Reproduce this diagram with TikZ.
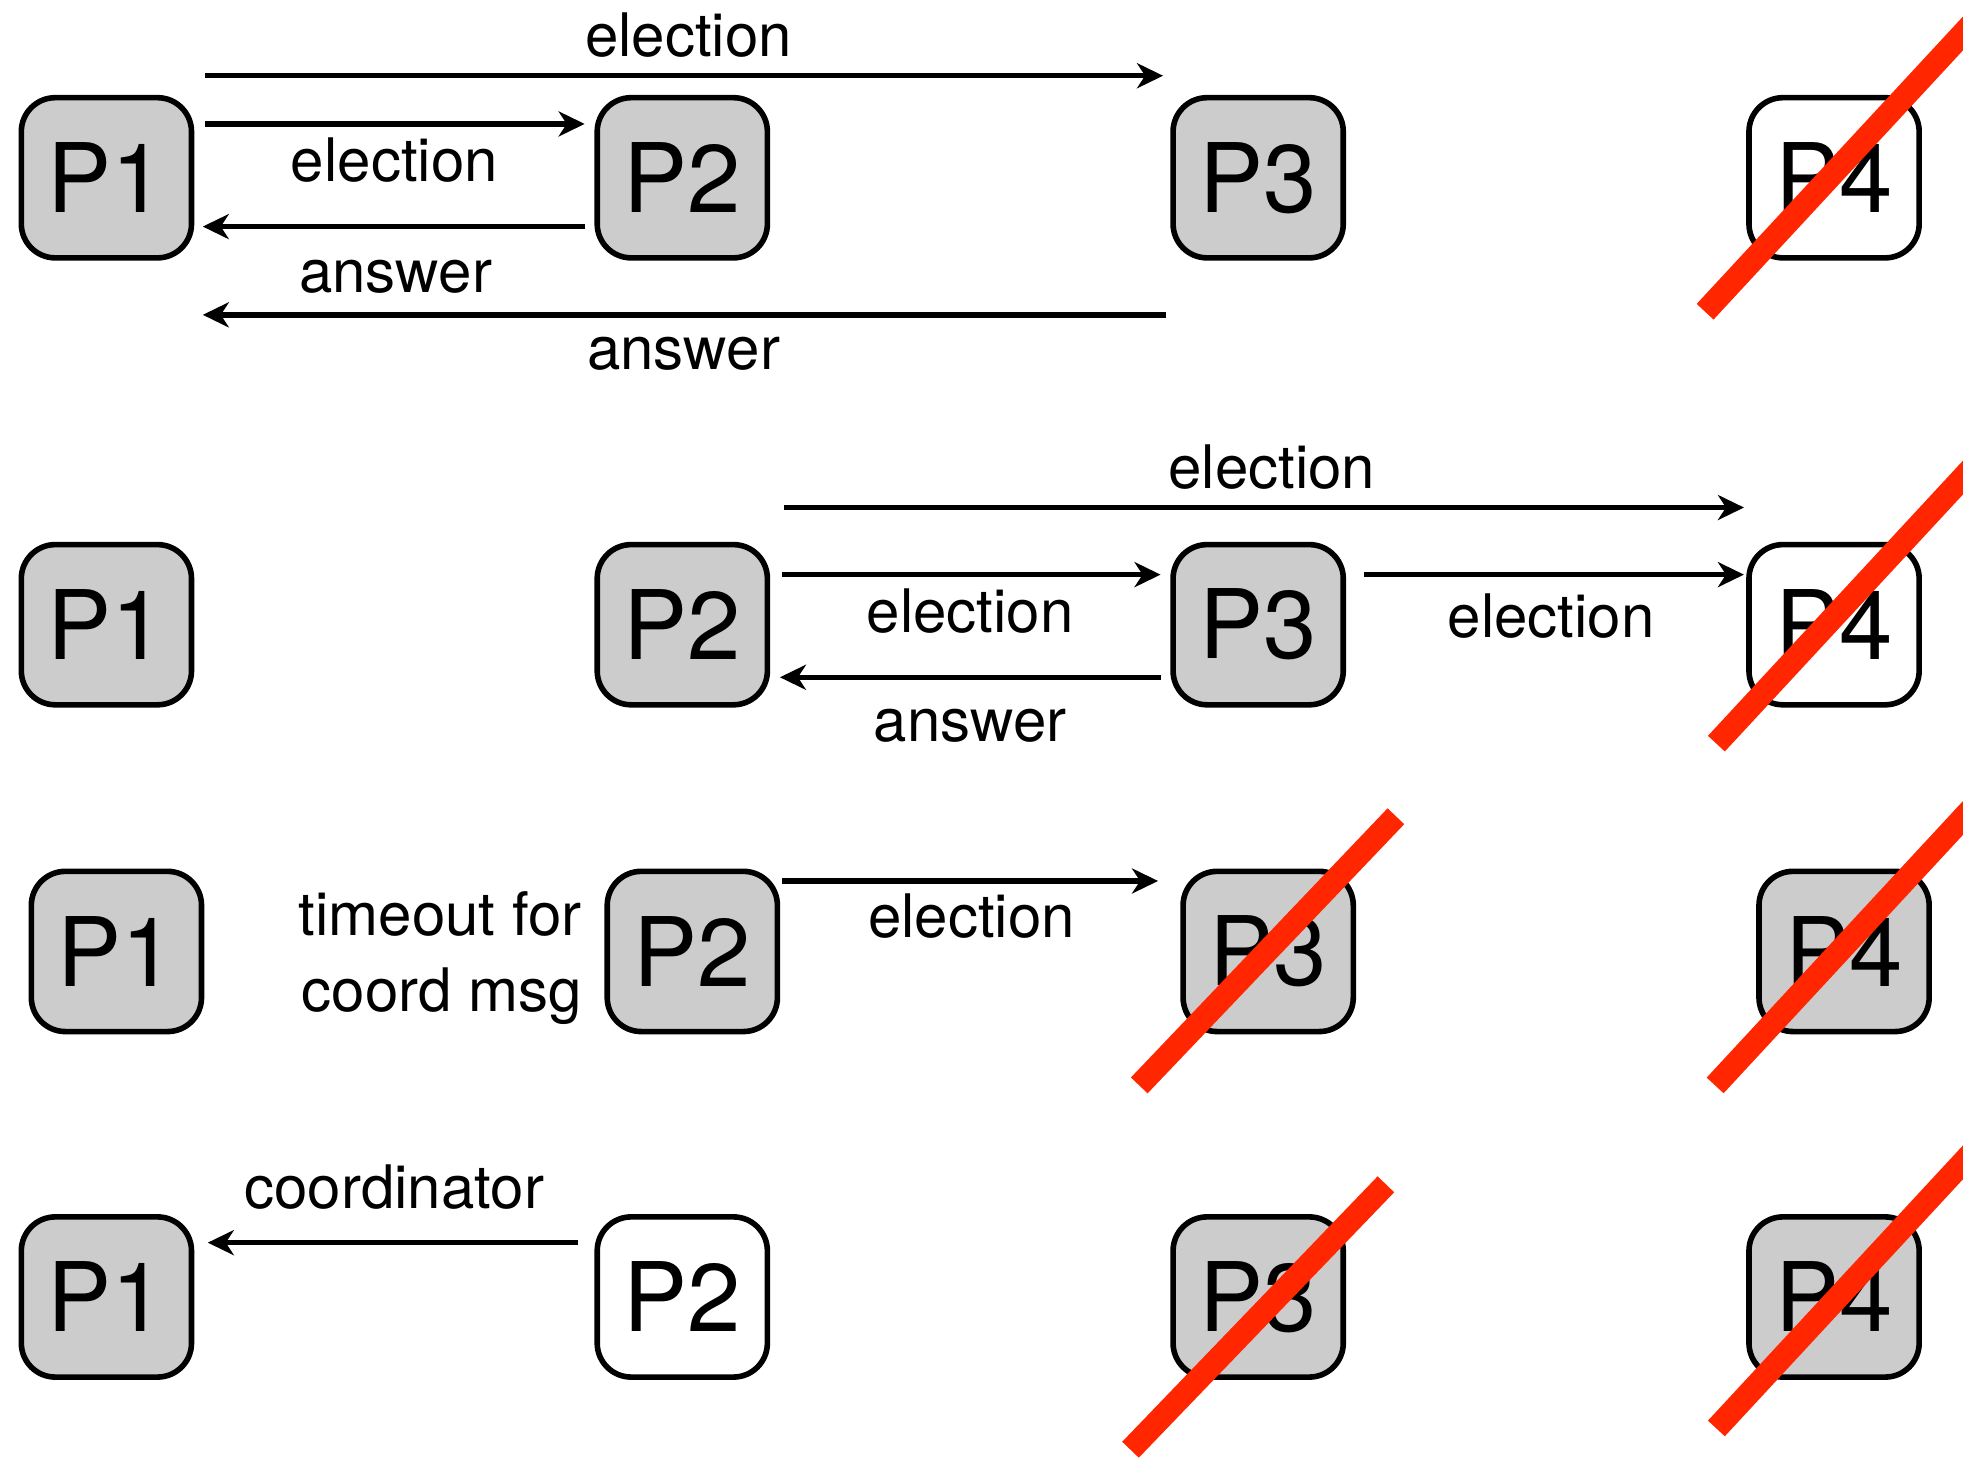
\documentclass[tikz,border=0pt]{standalone}
\usepackage{fontspec}
\setmainfont{TeX Gyre Heros}
\usetikzlibrary{arrows.meta,calc}
\definecolor{boxgray}{HTML}{CCCCCC}
\definecolor{crossred}{RGB}{255,38,0}
\begin{document}
\begin{tikzpicture}[x=0.62596pt, y=-0.62596pt,
  proc/.style={draw, rectangle, rounded corners=17pt, minimum width=85.1pt,
    minimum height=80.1pt, line width=2.8pt, fill=boxgray, inner sep=0pt,
    outer sep=0pt, font=\fontsize{48}{48}\selectfont},
  idle/.style={proc, fill=white},
  msg/.style={line width=2.7pt, -{Stealth[length=13pt, width=12.5pt, inset=4pt]}},
  lbl/.style={anchor=base, inner sep=0pt, font=\fontsize{30}{36}\selectfont},
  cross/.style={draw=crossred, line width=11.5pt, line cap=butt}]
\useasboundingbox (0,0) rectangle (1568,1164.7);
\clip (0,0) rectangle (1568,1164.7);

% ---- round 1: P1 starts an election ----
\node[proc] (a1) at (85,142) {P1};
\node[proc] (a2) at (545,142) {P2};
\node[proc] (a3) at (1005,142) {P3};
\node[idle] (a4) at (1465,142) {P4};
\draw[msg] ($(a1.east)+(11,-81.5)$) -- ($(a3.west)+(-8,-81.5)$);
\draw[msg] ($(a1.east)+(11,-43)$) -- ($(a2.west)+(-10,-43)$);
\draw[msg] ($(a2.west)+(-10,39)$) -- ($(a1.east)+(9,39)$);
\draw[msg] ($(a3.west)+(-5.5,109.5)$) -- ($(a1.east)+(9,109.5)$);
\node[lbl] (la1) at (550,45.5) {election};
\node[lbl] (la2) at (315,145) {election};
\node[lbl] (la3) at (316,234) {answer};
\node[lbl] (la4) at (546,295) {answer};
\draw[cross] ($(a4)+(-103,107)$) -- ++(215,-232);

% ---- round 2: P2 and P3 hold elections ----
\node[proc] (b1) at (85,499) {P1};
\node[proc] (b2) at (545,499) {P2};
\node[proc] (b3) at (1005,499) {P3};
\node[idle] (b4) at (1465,499) {P4};
\draw[msg] ($(b2.east)+(13,-93.6)$) -- ($(b4.west)+(-4,-93.6)$);
\draw[msg] ($(b2.east)+(12,-40)$) -- ($(b3.west)+(-10,-40)$);
\draw[msg] ($(b3.east)+(16.5,-40)$) -- ($(b4.west)+(-4,-40)$);
\draw[msg] ($(b3.west)+(-10,42)$) -- ($(b2.east)+(10,42)$);
\node[lbl] (lb1) at (1016,390.6) {election};
\node[lbl] (lb2) at (775,505) {election};
\node[lbl] (lb3) at (1239,509) {election};
\node[lbl] (lb4) at (775,592) {answer};
\draw[cross] ($(b4)+(-94,95)$) -- ++(215,-232);

% ---- round 3: P3 fails, P2 times out ----
\node[proc] (c1) at (93,760) {P1};
\node[proc] (c2) at (553,760) {P2};
\node[proc] (c3) at (1013,760) {P3};
\node[proc] (c4) at (1473,760) {P4};
\draw[msg] ($(c2.east)+(4,-56.3)$) -- ($(c3.west)+(-20,-56.3)$);
\node[lbl] (lc1) at (776,749) {election};
\node[lbl, anchor=base east] (lc2) at (465,747) {timeout for};
\node[lbl, anchor=base east] (lc3) at (465,808) {coord msg};
\draw[cross] ($(c3)+(-103,107)$) -- ($(c3)+(102,-108)$);
\draw[cross] ($(c4)+(-103,107)$) -- ++(215,-232);

% ---- round 4: P2 announces itself ----
\node[proc] (d1) at (85,1036) {P1};
\node[idle] (d2) at (545,1036) {P2};
\node[proc] (d3) at (1005,1036) {P3};
\node[proc] (d4) at (1465,1036) {P4};
\draw[msg] ($(d2.west)+(-15,-43.4)$) -- ($(d1.east)+(13,-43.4)$);
\node[lbl] (ld1) at (315,965) {coordinator};
\draw[cross] ($(d3)+(-102,122)$) -- ($(d3)+(102,-90)$);
\draw[cross] ($(d4)+(-94,105)$) -- ++(215,-232);
\end{tikzpicture}
\end{document}
